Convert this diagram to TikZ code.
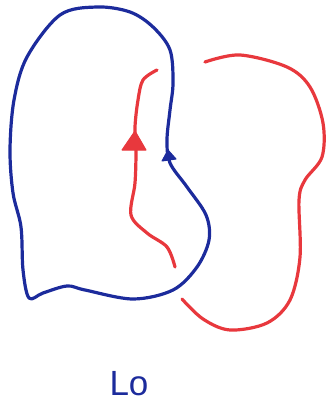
\documentclass[tikz,border=0pt]{standalone}
\usepackage{fontspec}
\setmainfont{Liberation Sans}
\definecolor{inkblue}{HTML}{1C2B9C}
\definecolor{inkred}{HTML}{E8383D}
\begin{document}
\begin{tikzpicture}[x=1pt,y=-1pt,
  bluepen/.style={draw=inkblue,line width=3.2pt,line cap=round,line join=round},
  redpen/.style={draw=inkred,line width=3.2pt,line cap=round,line join=round},
  redtip/.style={fill=inkred,draw=inkred,line width=1pt,line join=round},
  bluetip/.style={fill=inkblue,draw=inkblue,line width=1pt,line join=round}]
\useasboundingbox (0,0) rectangle (327,409);
% blue closed component
\draw[bluepen] plot[smooth cycle,tension=0.55] coordinates {(97,7) (60,15) (27,57) (14,100) (10,150) (13,193) (21,227) (23,270) (29,298) (43,293) (67,286) (85,290) (133,299) (173,290) (197,267) (209,240) (206,215) (187,187) (170,163) (167,140) (170,110) (173,83) (170,50) (153,27) (130,12)};
\draw[bluetip] (168,150) -- (162,161) -- (176,159) -- cycle;
% red component, upper-left strand
\draw[redpen] plot[smooth,tension=0.55] coordinates {(157,70) (143,80) (138,100) (135,127) (136,150) (135,183) (131,215) (147,233) (167,247) (175,267)};
\draw[redtip] (135,131) -- (122,150) -- (146,150) -- cycle;
% red component, right strand
\draw[redpen] plot[smooth,tension=0.55] coordinates {(182,299) (203,319) (230,330) (267,323) (290,300) (300,257) (299,200) (305,180) (322,157) (323,123) (310,87) (287,67) (240,55) (205,62)};
% label
\node[text=inkblue,font=\fontsize{35}{40}\selectfont] (lab) at (129,384) {Lo};
\end{tikzpicture}
\end{document}
